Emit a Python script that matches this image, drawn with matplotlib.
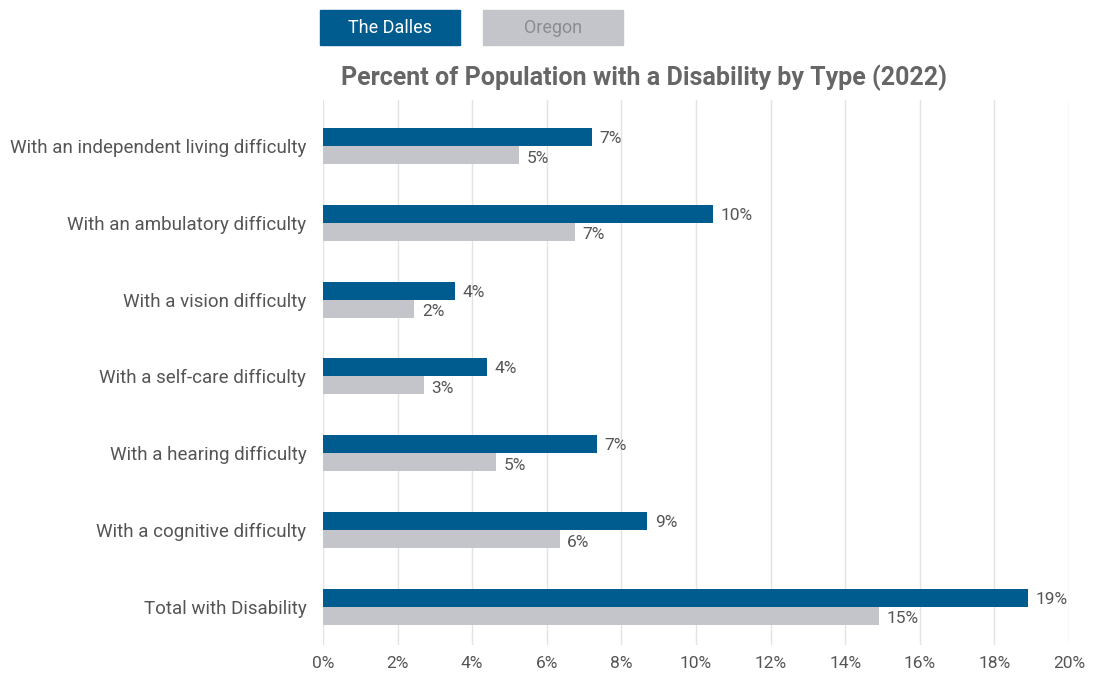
import matplotlib.pyplot as plt

# Data
categories = ['With an independent living difficulty', 'With an ambulatory difficulty',
              'With a vision difficulty', 'With a self-care difficulty',
              'With a hearing difficulty', 'With a cognitive difficulty',
              'Total with Disability']
dalles = [7.2, 10.45, 3.55, 4.4, 7.35, 8.7, 18.9]
oregon = [5.25, 6.75, 2.45, 2.7, 4.65, 6.35, 14.9]
xticks = [0, 2, 4, 6, 8, 10, 12, 14, 16, 18, 20]

blue = '#005B8F'
grey = '#C3C5CA'
text_col = '#555555'

plt.rcParams['font.family'] = ['Roboto', 'DejaVu Sans']

fig = plt.figure(figsize=(10.93, 6.75), dpi=100)
ax = fig.add_axes([0.2955, 0.044, 0.6825, 0.808])

h = 0.235
ys = list(range(len(categories)))
ax.barh([y - h / 2 for y in ys], dalles, height=h, color=blue, zorder=3)
ax.barh([y + h / 2 for y in ys], oregon, height=h, color=grey, zorder=3)

for y, v in zip(ys, dalles):
    ax.text(v + 0.2, y - h / 2 + 0.02, f'{round(v)}%', va='center', ha='left',
            fontsize=12.5, color=text_col)
for y, v in zip(ys, oregon):
    ax.text(v + 0.2, y + h / 2 + 0.04, f'{round(v)}%', va='center', ha='left',
            fontsize=12.5, color=text_col)

ax.set_xlim(0, 20)
ax.set_ylim(6.5, -0.6)
ax.set_xticks(xticks)
ax.set_xticklabels([f'{t}%' for t in xticks])
ax.set_yticks(ys)
ax.set_yticklabels(categories)
ax.tick_params(axis='both', length=0, labelcolor=text_col)
ax.tick_params(axis='y', pad=12, labelsize=13.5)
ax.tick_params(axis='x', pad=8, labelsize=12.5)
ax.grid(axis='x', color='#E3E3E3', linewidth=1, zorder=0)
for s in ax.spines.values():
    s.set_visible(False)

fig.text(0.589, 0.885, 'Percent of Population with a Disability by Type (2022)',
         ha='center', va='center', fontsize=18, fontweight='bold', color='#666666')

# legend buttons
for x0, lab, fc, tc in [(320, 'The Dalles', blue, 'white'), (483, 'Oregon', grey, '#8A8C90')]:
    fig.patches.append(plt.Rectangle((x0 / 1093, 1 - 45 / 675), 140 / 1093, 35 / 675,
                                     transform=fig.transFigure, color=fc))
    fig.text((x0 + 70) / 1093, 1 - 28 / 675, lab, ha='center', va='center',
             fontsize=13, color=tc)

fig.savefig('out.png', dpi=100)
